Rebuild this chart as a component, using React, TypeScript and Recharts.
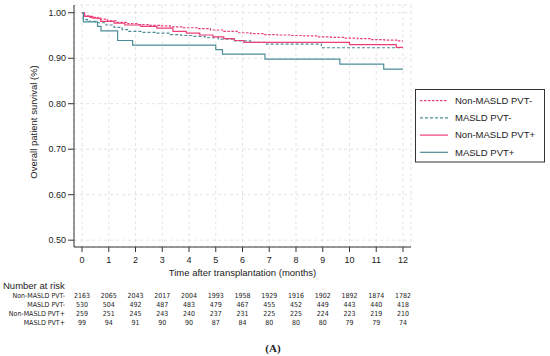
import React from "react";
import { LineChart, Line, XAxis, YAxis, CartesianGrid } from "recharts";

// ---- data ----
const months = [0, 1, 2, 3, 4, 5, 6, 7, 8, 9, 10, 11, 12];
const yTicks = [0.5, 0.6, 0.7, 0.8, 0.9, 1.0];

const seriesNames = ["Non-MASLD PVT-", "MASLD PVT-", "Non-MASLD PVT+", "MASLD PVT+"];

const nonMasldPvtNegT = [0, 0.05, 0.3, 0.6, 0.95, 1.3, 1.7, 2.1, 2.5, 2.9, 3.3, 3.8, 4.3, 4.8, 5.3, 5.8, 6.3, 6.8, 7.3, 7.8, 8.3, 8.8, 9.3, 9.8, 10.3, 10.8, 11.3, 11.8, 12];
const nonMasldPvtNegV = [1.0, 0.993, 0.99, 0.986, 0.982, 0.979, 0.976, 0.974, 0.972, 0.971, 0.969, 0.967, 0.965, 0.962, 0.959, 0.956, 0.954, 0.952, 0.951, 0.95, 0.949, 0.947, 0.946, 0.944, 0.943, 0.941, 0.94, 0.938, 0.938];

const masldPvtNegT = [0, 0.05, 0.2, 0.5, 0.9, 1.2, 1.5, 1.75, 2.2, 2.8, 3.3, 3.7, 4.1, 4.6, 5.1, 5.7, 6.3, 6.9, 8.95, 12];
const masldPvtNegV = [1.0, 0.985, 0.981, 0.978, 0.973, 0.968, 0.963, 0.959, 0.957, 0.955, 0.952, 0.95, 0.948, 0.945, 0.942, 0.938, 0.935, 0.931, 0.923, 0.923];

const nonMasldPvtPosT = [0, 0.1, 0.4, 0.7, 1.2, 1.6, 2.2, 2.8, 3.4, 3.9, 4.4, 4.9, 5.3, 5.7, 6.05, 10.0, 11.75, 12];
const nonMasldPvtPosV = [1.0, 0.992, 0.988, 0.981, 0.977, 0.973, 0.97, 0.966, 0.959, 0.955, 0.951, 0.947, 0.943, 0.939, 0.935, 0.93, 0.924, 0.924];

const masldPvtPosT = [0, 0.05, 0.58, 0.71, 1.33, 1.89, 5.0, 5.25, 6.84, 9.64, 11.28, 12];
const masldPvtPosV = [1.0, 0.98, 0.97, 0.96, 0.939, 0.929, 0.919, 0.909, 0.898, 0.887, 0.876, 0.876];

const riskNonMasldPvtNeg = [2163, 2065, 2043, 2017, 2004, 1993, 1958, 1929, 1916, 1902, 1892, 1874, 1782];
const riskMasldPvtNeg = [530, 504, 492, 487, 483, 479, 467, 455, 452, 449, 443, 440, 418];
const riskNonMasldPvtPos = [259, 251, 245, 243, 240, 237, 231, 225, 225, 224, 223, 219, 210];
const riskMasldPvtPos = [99, 94, 91, 90, 90, 87, 84, 80, 80, 80, 79, 79, 74];

// ---- styling ----
const PINK = "#ec3f78";
const TEAL = "#4d8d97";
const FONT = "'Liberation Sans', Arial, Helvetica, sans-serif";
const NARROW = "'Liberation Sans Narrow', 'Arial Narrow', 'DejaVu Sans Condensed', sans-serif";

const toData = (ts: number[], vs: number[]) => ts.map((t, i) => ({ t, v: vs[i] }));

const lines = [
  { name: seriesNames[0], data: toData(nonMasldPvtNegT, nonMasldPvtNegV), color: PINK, dash: "2.5 1.5" },
  { name: seriesNames[1], data: toData(masldPvtNegT, masldPvtNegV), color: TEAL, dash: "3 2" },
  { name: seriesNames[2], data: toData(nonMasldPvtPosT, nonMasldPvtPosV), color: PINK, dash: undefined },
  { name: seriesNames[3], data: toData(masldPvtPosT, masldPvtPosV), color: TEAL, dash: undefined },
];

const riskRows = [riskNonMasldPvtNeg, riskMasldPvtNeg, riskNonMasldPvtPos, riskMasldPvtPos];

const XTick = (props: any) => {
  const { x, y, payload } = props;
  const idx = months.indexOf(payload.value);
  return (
    <g>
      <text x={x} y={y + 8.5} textAnchor="middle" fontSize={9} fontFamily={FONT} fill="#222">
        {payload.value}
      </text>
      {riskRows.map((row, r) => (
        <text key={r} x={x} y={y + 43.5 + r * 9} textAnchor="middle" fontSize={7} fontFamily={NARROW} fill="#222">
          {idx >= 0 ? row[idx] : ""}
        </text>
      ))}
    </g>
  );
};

export default function App() {
  return (
    <div style={{ position: "absolute", left: 0, top: 0, width: 550, height: 356, background: "#fff" }}>
      <LineChart width={550} height={356} margin={{ top: 5, right: 139, bottom: 9, left: 0 }}>
        <CartesianGrid strokeDasharray="3 3" stroke="#e4e4e4" />
        <XAxis
          type="number"
          dataKey="t"
          domain={[-0.3, 12.3]}
          ticks={months}
          allowDataOverflow
          interval={0}
          height={100}
          tickSize={5}
          axisLine={{ stroke: "#333" }}
          tickLine={{ stroke: "#333" }}
          tick={<XTick />}
        />
        <YAxis
          type="number"
          domain={[0.485, 1.017]}
          ticks={yTicks}
          allowDataOverflow
          width={74}
          tickSize={6}
          tickMargin={2}
          axisLine={{ stroke: "#333" }}
          tickLine={{ stroke: "#333" }}
          tick={{ fontSize: 9, fontFamily: FONT, fill: "#222" }}
          tickFormatter={(v: number) => v.toFixed(2)}
        />
        {lines.map((l) => (
          <Line
            key={l.name}
            data={l.data}
            dataKey="v"
            name={l.name}
            type="stepAfter"
            stroke={l.color}
            strokeWidth={1.2}
            strokeDasharray={l.dash}
            dot={false}
            activeDot={false}
            isAnimationActive={false}
          />
        ))}
      </LineChart>
      <svg
        width={550}
        height={356}
        style={{ position: "absolute", left: 0, top: 0, pointerEvents: "none" }}
        fontFamily={FONT}
      >
        <text
          transform="translate(37,122) rotate(-90)"
          textAnchor="middle"
          fontSize={9.5}
          fill="#222"
        >
          Overall patient survival (%)
        </text>
        <text x={242.5} y={276} textAnchor="middle" fontSize={9.5} fill="#222">
          Time after transplantation (months)
        </text>
        <text x={3} y={289} fontSize={9.5} fill="#222">
          Number at risk
        </text>
        {seriesNames.map((n, i) => (
          <text key={n} x={65} y={297.5 + i * 9} textAnchor="end" fontSize={7} fontFamily={NARROW} fill="#222">
            {n}
          </text>
        ))}
        <rect x={415.5} y={89.5} width={129} height={72.5} fill="#fff" stroke="#333" strokeWidth={1} />
        {lines.map((l, i) => (
          <g key={l.name}>
            <line
              x1={420}
              x2={448}
              y1={100.7 + i * 17.2}
              y2={100.7 + i * 17.2}
              stroke={l.color}
              strokeWidth={1.2}
              strokeDasharray={l.dash}
            />
            <text x={455} y={104 + i * 17.2} fontSize={9.5} fill="#222">
              {l.name}
            </text>
          </g>
        ))}
        <text
          x={273}
          y={352}
          textAnchor="middle"
          fontSize={11}
          fontWeight="bold"
          fontFamily="'Liberation Serif', 'Times New Roman', serif"
          fill="#222"
        >
          (A)
        </text>
      </svg>
    </div>
  );
}
